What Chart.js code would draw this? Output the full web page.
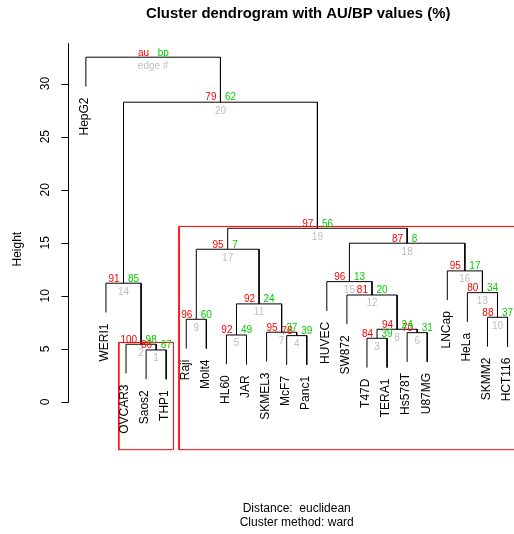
<!DOCTYPE html>
<html>
<head>
<meta charset="utf-8">
<script src="https://cdn.jsdelivr.net/npm/chart.js@4.4.1/dist/chart.umd.min.js"></script>
<style>
html, body { margin: 0; padding: 0; overflow: hidden; background: #fff; }
canvas { display: block; }
</style>
</head>
<body>
<canvas id="c" width="540" height="534"></canvas>
<script>
// Leaves in plotting order (position 1..n)
const leaves = ['HepG2','WERI1','OVCAR3','Saos2','THP1','Raji','Molt4','HL60','JAR','SKMEL3',
  'McF7','Panc1','HUVEC','SW872','T47D','TERA1','Hs578T','U87MG','LNCap','HeLa','SKMM2','HCT116'];

// hclust-style merge table: negative = leaf position, positive = earlier merge (edge #)
const mergeLeft  = [-4, -3, -15, -11, -8, -17, -10, 3, -6, -21, 5, -14, -20, -2, -13, -19, 9, 15, 17, 14, -1];
const mergeRight = [-5,  1, -16, -12, -9, -18,   4, 6, -7, -22, 7,   8,  10,  2,  12,  13, 11, 16, 18, 19, 20];
const heights    = [4.90, 5.44, 6.00, 6.25, 6.31, 6.53, 6.57, 6.85, 7.79, 7.98, 9.24,
  10.08, 10.30, 11.19, 11.34, 12.35, 14.39, 14.96, 16.37, 28.25, 32.49];

// AU / BP p-values (%) for edges 1..20
const auValues = [86, 100, 84, 78, 92, 70, 95, 94, 96, 88, 92, 81, 80, 91, 96, 95, 95, 87, 97, 79];
const bpValues = [67,  98, 39, 39, 49, 31, 37, 24, 60, 37, 24, 20, 34, 85, 13, 17,  7,  8, 56, 62];

const yTicks = [0, 5, 10, 15, 20, 25, 30];
const auThreshold = 95;

const n = leaves.length;
const hang = 0.1 * (Math.max(...heights) - Math.min(...heights));
const nodeX = [];
const leafTop = new Array(n).fill(0);
const members = [];

const cx = c => c < 0 ? -c : nodeX[c - 1];
const cy = (c, h) => c < 0 ? h - hang : heights[c - 1];
const mem = c => c < 0 ? [-c, -c] : members[c - 1];

// Dendrogram segments as one broken polyline
const treePts = [];
heights.forEach((h, i) => {
  const a = mergeLeft[i], b = mergeRight[i];
  nodeX[i] = (cx(a) + cx(b)) / 2;
  const ma = mem(a), mb = mem(b);
  members[i] = [Math.min(ma[0], mb[0]), Math.max(ma[1], mb[1])];
  if (a < 0) leafTop[-a - 1] = h;
  if (b < 0) leafTop[-b - 1] = h;
  treePts.push(
    { x: cx(a), y: cy(a, h) }, { x: cx(a), y: h },
    { x: cx(b), y: h }, { x: cx(b), y: cy(b, h) },
    { x: cx(b), y: null }
  );
});

// Boxes around the largest clusters with AU >= threshold
const rectPts = [];
const chosen = [];
for (let i = auValues.length - 1; i >= 0; i--) {
  if (auValues[i] < auThreshold) continue;
  const [lo, hi] = members[i];
  if (chosen.some(([a, b]) => !(hi < a || lo > b))) continue;
  chosen.push([lo, hi]);
  const x1 = lo - 0.36, x2 = hi + 0.36, yb = -4.5, yt = heights[i] + 0.17;
  rectPts.push({ x: x1, y: yb }, { x: x2, y: yb }, { x: x2, y: yt }, { x: x1, y: yt }, { x: x1, y: yb }, { x: x1, y: null });
}

const FONT = '"Liberation Sans", Arial, Helvetica, sans-serif';

const overlay = {
  id: 'overlay',
  afterDatasetsDraw(chart) {
    const { ctx, chartArea } = chart;
    const xs = chart.scales.x, ys = chart.scales.y;
    ctx.save();

    // p-values and edge numbers
    ctx.font = '10px ' + FONT;
    ctx.textBaseline = 'alphabetic';
    heights.forEach((h, i) => {
      const px = xs.getPixelForValue(nodeX[i]);
      const py = ys.getPixelForValue(h);
      const isRoot = i >= auValues.length;
      ctx.fillStyle = '#FF0000';
      ctx.textAlign = 'right';
      ctx.fillText(isRoot ? 'au' : String(auValues[i]), px - 4, py - 1.7);
      ctx.fillStyle = '#00CD00';
      ctx.textAlign = 'left';
      ctx.fillText(isRoot ? 'bp' : String(bpValues[i]), px + 4.5, py - 1.7);
      ctx.fillStyle = '#BEBEBE';
      ctx.textAlign = 'center';
      ctx.fillText(isRoot ? 'edge #' : String(i + 1), px, py + 11.5);
    });

    // leaf labels
    ctx.font = '12px ' + FONT;
    ctx.fillStyle = '#000';
    ctx.textAlign = 'right';
    ctx.textBaseline = 'middle';
    leaves.forEach((name, i) => {
      const px = xs.getPixelForValue(i + 1);
      const py = ys.getPixelForValue(leafTop[i] - hang);
      ctx.save();
      ctx.translate(px - 1, py + 11);
      ctx.rotate(-Math.PI / 2);
      ctx.fillText(name, 0, 0);
      ctx.restore();
    });

    // y axis
    const ax = Math.round(chartArea.left) - 0.5;
    ctx.strokeStyle = '#000';
    ctx.lineWidth = 1;
    ctx.beginPath();
    ctx.moveTo(ax, Math.round(ys.getPixelForValue(0)) + 0.5);
    ctx.lineTo(ax, chartArea.top);
    yTicks.forEach(t => {
      const ty = Math.round(ys.getPixelForValue(t)) + 0.5;
      ctx.moveTo(ax, ty);
      ctx.lineTo(ax - 7, ty);
    });
    ctx.stroke();
    ctx.font = '12px ' + FONT;
    ctx.textAlign = 'center';
    ctx.textBaseline = 'alphabetic';
    yTicks.forEach(t => {
      ctx.save();
      ctx.translate(48.5, ys.getPixelForValue(t));
      ctx.rotate(-Math.PI / 2);
      ctx.fillText(String(t), 0, 0);
      ctx.restore();
    });
    const midX = (chartArea.left + chartArea.right) / 2;
    const midY = (chartArea.top + chartArea.bottom) / 2;
    ctx.save();
    ctx.translate(20.5, midY);
    ctx.rotate(-Math.PI / 2);
    ctx.fillText('Height', 0, 0);
    ctx.restore();

    // titles
    ctx.font = 'bold 14.9px ' + FONT;
    ctx.fillText('Cluster dendrogram with AU/BP values (%)', midX + 1.5, 17.5);
    ctx.font = '12px ' + FONT;
    ctx.fillText('Distance:  euclidean', midX, 512);
    ctx.fillText('Cluster method: ward', midX, 526);
    ctx.restore();
  }
};

new Chart(document.getElementById('c'), {
  type: 'scatter',
  data: {
    datasets: [
      { data: rectPts, showLine: true, spanGaps: false, borderColor: '#FF0000', borderWidth: 1, pointRadius: 0, fill: false },
      { data: treePts, showLine: true, spanGaps: false, borderColor: '#000000', borderWidth: 1, pointRadius: 0, fill: false }
    ]
  },
  options: {
    responsive: false,
    animation: false,
    devicePixelRatio: 1,
    layout: { padding: { left: 69, right: 15.6, top: 43.3, bottom: 79 } },
    scales: {
      x: { type: 'linear', min: 0.16, max: 22.84, display: false },
      y: { type: 'linear', min: -5, max: 33.8, display: false }
    },
    plugins: { legend: { display: false }, tooltip: { enabled: false }, title: { display: false } },
    elements: { line: { tension: 0 } }
  },
  plugins: [overlay]
});
</script>
</body>
</html>
